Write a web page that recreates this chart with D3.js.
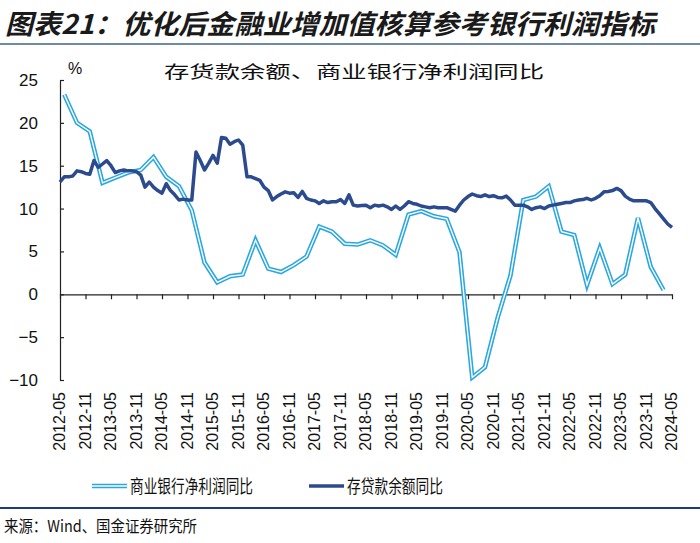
<!DOCTYPE html>
<html><head><meta charset="utf-8">
<script src="https://cdn.jsdelivr.net/npm/d3@7"></script>
<style>body{margin:0;background:#fff;}svg{display:block;}</style>
</head><body>
<svg id="c" width="700" height="543"></svg>
<script>
// ---- data ----
const titleText = "图表21：优化后金融业增加值核算参考银行利润指标";
const subTitle = "存货款余额、商业银行净利润同比";
const sourceText = "来源：Wind、国金证券研究所";
const seriesNames = ["商业银行净利润同比", "存贷款余额同比"];
const yTicks = [-10, -5, 0, 5, 10, 15, 20, 25];
const xTickLabels = ["2012-05","2012-11","2013-05","2013-11","2014-05","2014-11","2015-05","2015-11","2016-05","2016-11","2017-05","2017-11","2018-05","2018-11","2019-05","2019-11","2020-05","2020-11","2021-05","2021-11","2022-05","2022-11","2023-05","2023-11","2024-05"];
// monthly, 2012-05 .. 2024-05
const depositStart = "2012-05";
const depositValues = [13.1,13.7,13.7,13.8,14.4,14.3,14.1,14.0,15.6,14.8,15.2,15.6,15.0,14.2,14.4,14.5,14.4,14.4,14.3,13.9,12.5,13.1,12.5,12.1,11.8,12.9,12.1,11.6,11.0,11.1,11.0,11.0,16.6,15.6,14.5,15.3,16.2,15.3,18.3,18.2,17.5,17.8,18.0,17.4,13.7,13.7,13.5,13.3,12.5,12.1,11.0,11.4,11.7,11.95,11.8,11.85,11.3,12.0,11.2,11.0,10.9,10.6,10.9,10.7,10.8,10.8,11.05,10.6,11.6,10.4,10.3,10.35,10.4,10.1,10.4,10.3,10.4,10.2,9.9,10.3,9.9,10.3,10.8,10.6,10.5,10.3,10.2,10.1,10.2,10.1,10.1,10.1,9.9,9.7,10.4,11.0,11.4,11.7,11.5,11.4,11.6,11.4,11.5,11.3,11.25,11.45,11.0,10.4,10.4,10.4,10.2,9.9,10.1,10.2,10.0,10.3,10.4,10.5,10.6,10.7,10.7,10.9,11.0,11.05,11.2,11.0,11.2,11.5,11.95,12.0,12.1,12.35,12.1,11.45,11.1,10.9,10.9,10.9,10.9,10.7,10.0,9.4,8.8,8.2,7.8];
// quarterly, 2012-06 .. 2024-03
const profitStart = "2012-06";
const profitValues = [23.3,20.0,19.0,13.0,13.6,14.2,14.5,16.0,13.7,12.6,9.8,3.7,1.4,2.1,2.3,6.3,3.0,2.6,3.4,4.4,7.9,7.3,5.9,5.8,6.3,5.7,4.6,9.3,9.7,9.1,8.8,4.9,-9.7,-8.5,-2.7,2.2,11.0,11.4,12.6,7.3,6.9,1.1,5.4,1.2,2.3,8.9,3.2,0.5];

// ---- helpers ----
function monthIndex(s){ const [y,m]=s.split("-").map(Number); return (y-2012)*12 + (m-5); }
const dep = depositValues.map((v,i)=>({m: monthIndex(depositStart)+i, v}));
const prof = profitValues.map((v,i)=>({m: monthIndex(profitStart)+3*i, v}));

const svg = d3.select("#c");
const x = d3.scaleLinear().domain([0, monthIndex("2024-05")]).range([60, 672]);
const y = d3.scaleLinear().domain([-10, 25]).range([380, 80]);
const cjk = "'Noto Sans CJK SC', sans-serif";

// title
svg.append("text").attr("x", 5).attr("y", 34).text(titleText)
  .attr("font-family", cjk).attr("font-size", 27).attr("font-weight", "bold")
  .attr("font-style", "italic").attr("fill", "#1a1a1a")
  .attr("textLength", 650).attr("lengthAdjust", "spacingAndGlyphs");
svg.append("line").attr("x1", 0).attr("x2", 700).attr("y1", 44).attr("y2", 44)
  .attr("stroke", "#6f8aa3").attr("stroke-width", 2);

// subtitle
svg.append("text").attr("x", 354).attr("y", 78).attr("text-anchor", "middle").text(subTitle)
  .attr("font-family", cjk).attr("font-size", 17).attr("fill", "#111")
  .attr("textLength", 380).attr("lengthAdjust", "spacingAndGlyphs");
svg.append("text").attr("x", 68).attr("y", 74).text("%")
  .attr("font-family", "'Liberation Sans', Arial").attr("font-size", 16).attr("fill", "#111");

// y axis
const yAxis = d3.axisLeft(y).tickValues(yTicks).tickSize(-4).tickPadding(22).tickSizeOuter(0);
const gy = svg.append("g").attr("transform", "translate(60,0)").call(yAxis);
gy.select(".domain").attr("stroke", "#222").attr("stroke-width", 1.2);
gy.selectAll(".tick line").attr("stroke", "#222").attr("stroke-width", 1.2);
gy.selectAll("text").attr("font-family", "'Liberation Sans', Arial").attr("font-size", 17).attr("fill", "#111");

// x axis at zero
const xAxis = d3.axisBottom(x).tickValues(xTickLabels.map(monthIndex)).tickSize(5).tickFormat("").tickSizeOuter(0);
const gx = svg.append("g").attr("transform", `translate(0,${y(0)})`).call(xAxis);
gx.select(".domain").attr("stroke", "#222").attr("stroke-width", 1.2);
gx.selectAll(".tick line").attr("stroke", "#222").attr("stroke-width", 1.2);
// x labels (rotated, below plot)
svg.append("g").selectAll("text").data(xTickLabels).join("text")
  .attr("transform", d => `translate(${x(monthIndex(d)) + 5},392) rotate(-90)`)
  .attr("text-anchor", "end").text(d => d)
  .attr("font-family", "'Liberation Sans', Arial").attr("font-size", 16).attr("fill", "#111");

// lines
const line = d3.line().x(d => x(d.m)).y(d => y(d.v));
svg.append("path").datum(prof).attr("d", line).attr("fill", "none")
  .attr("stroke", "#2aa7e0").attr("stroke-width", 4.5).attr("stroke-linejoin", "miter");
svg.append("path").datum(prof).attr("d", line).attr("fill", "none")
  .attr("stroke", "#ffffff").attr("stroke-width", 1.4).attr("stroke-linejoin", "miter");
svg.append("path").datum(dep).attr("d", line).attr("fill", "none")
  .attr("stroke", "#2c4b8e").attr("stroke-width", 3.5).attr("stroke-linejoin", "round");

// legend
const lg = svg.append("g");
lg.append("line").attr("x1", 92).attr("x2", 127).attr("y1", 486).attr("y2", 486).attr("stroke", "#2aa7e0").attr("stroke-width", 4.5);
lg.append("line").attr("x1", 92).attr("x2", 127).attr("y1", 486).attr("y2", 486).attr("stroke", "#fff").attr("stroke-width", 1.4);
lg.append("text").attr("x", 130).attr("y", 493).text(seriesNames[0])
  .attr("font-family", cjk).attr("font-size", 18).attr("fill", "#111")
  .attr("textLength", 123).attr("lengthAdjust", "spacingAndGlyphs");
lg.append("line").attr("x1", 309).attr("x2", 344).attr("y1", 486).attr("y2", 486).attr("stroke", "#2c4b8e").attr("stroke-width", 3.5);
lg.append("text").attr("x", 347).attr("y", 493).text(seriesNames[1])
  .attr("font-family", cjk).attr("font-size", 18).attr("fill", "#111")
  .attr("textLength", 96).attr("lengthAdjust", "spacingAndGlyphs");

// bottom rule + source
svg.append("line").attr("x1", 0).attr("x2", 700).attr("y1", 508).attr("y2", 508)
  .attr("stroke", "#1f3d6e").attr("stroke-width", 2);
svg.append("text").attr("x", 4).attr("y", 532).text(sourceText)
  .attr("font-family", cjk).attr("font-size", 16).attr("fill", "#111")
  .attr("textLength", 193).attr("lengthAdjust", "spacingAndGlyphs");
</script>
</body></html>
